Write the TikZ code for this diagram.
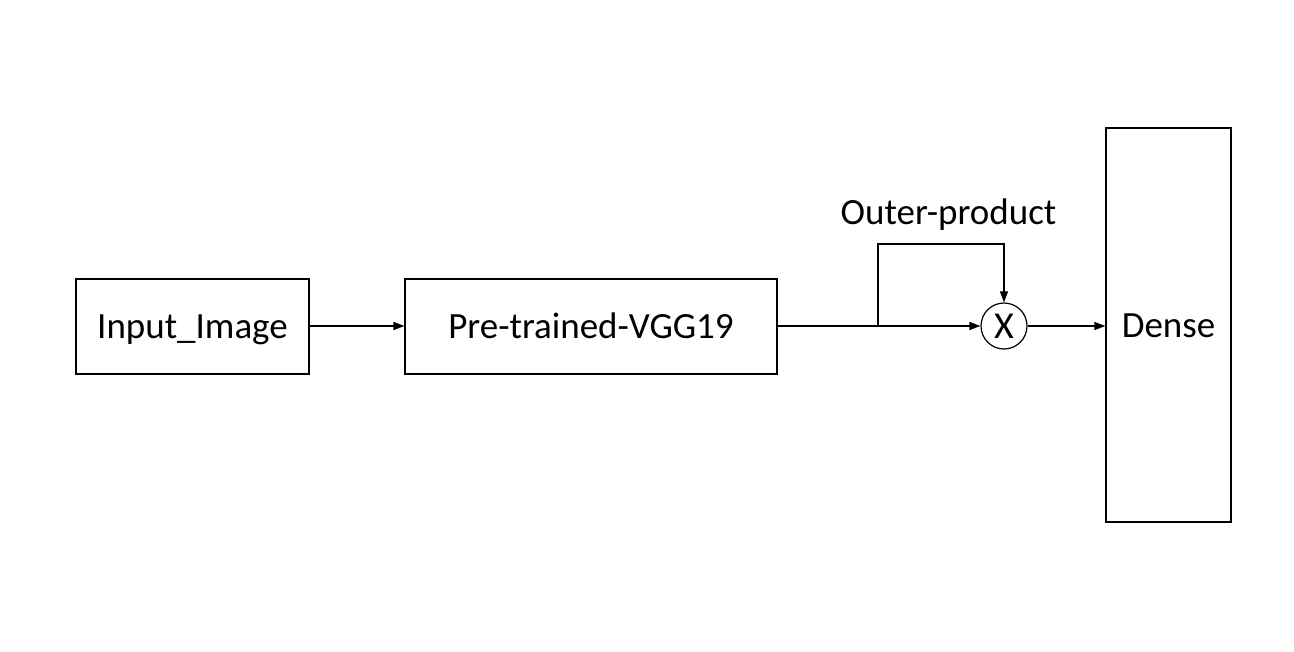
\documentclass[tikz,border=0pt]{standalone}
\usepackage{fontspec}
\setmainfont{Carlito}
\usetikzlibrary{arrows.meta}
\begin{document}
\begin{tikzpicture}[x=1pt,y=-1pt,
  line width=1.2pt,
  txt/.style={font=\fontsize{37}{44}\selectfont,text height=32pt,text depth=8.5pt},
  box/.style={draw,inner sep=0pt,txt},
  arr/.style={-{Triangle[length=11pt,width=8pt]}},
  lbl/.style={txt}]
\useasboundingbox (0,0) rectangle (1294,652);
\node[box,minimum width=233pt,minimum height=95pt] (inp) at (192.5,326.5) {Input\_Image};
\node[box,minimum width=372pt,minimum height=95pt] (vgg) at (591,326.5) {Pre-trained-VGG19};
\node[draw,circle,minimum size=46pt,inner sep=0pt,font=\fontsize{38}{44}\selectfont] (mul) at (1004,326) {X};
\node[box,minimum width=125pt,minimum height=394pt,text height=33pt,text depth=7pt] (dense) at (1168.5,325) {Dense};
\node[lbl] (op) at (948.5,213.25) {Outer-product};
\coordinate (br) at (878,326);
\coordinate (top) at (878,244);
\draw[arr] (inp.east |- 0,326) -- (vgg.west |- 0,326);
\draw (vgg.east |- 0,326) -- (br);
\draw[arr] (br) -- (mul.west);
\draw[arr] (br) -- (top) -| (mul.north);
\draw[arr] (mul.east) -- (dense.west |- mul.east);
\end{tikzpicture}
\end{document}
